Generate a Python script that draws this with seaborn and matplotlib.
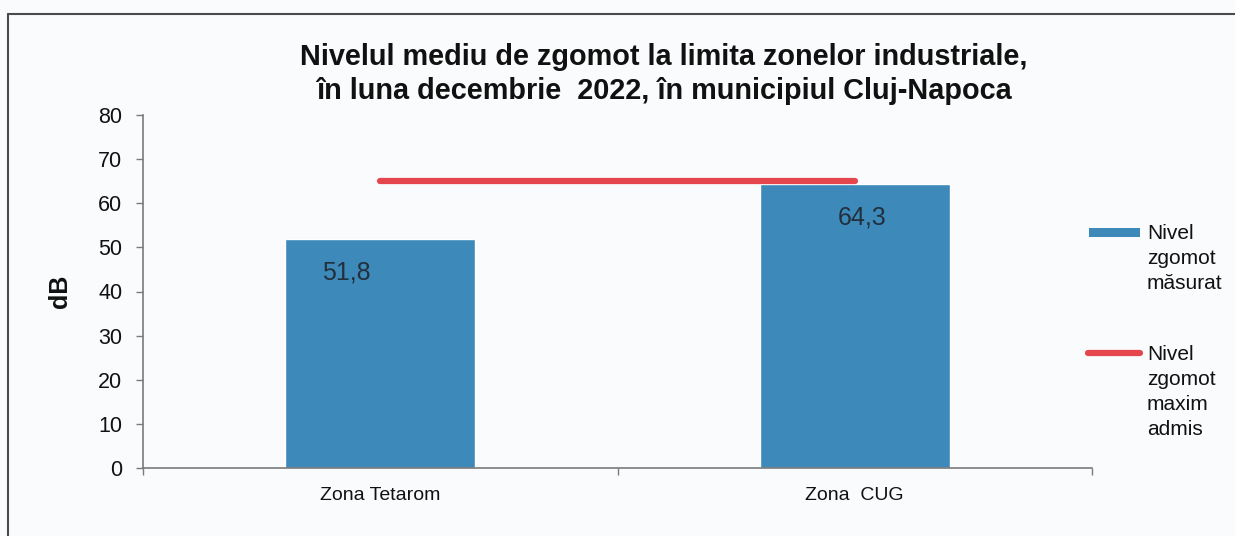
import numpy as np
import pandas as pd
import matplotlib
matplotlib.use("Agg")
import matplotlib.pyplot as plt
import seaborn as sns
from matplotlib.lines import Line2D
from matplotlib.patches import Rectangle

# --- data -------------------------------------------------------------
zones = ["Zona Tetarom", "Zona  CUG"]
measured_db = [51.8, 64.3]
max_admitted_db = [65, 65]
value_labels = ["51,8", "64,3"]
y_ticks = [0, 10, 20, 30, 40, 50, 60, 70, 80]
legend_labels = ["Nivel\nzgomot\nmăsurat", "Nivel\nzgomot\nmaxim\nadmis"]
title = ("Nivelul mediu de zgomot la limita zonelor industriale,\n"
         "în luna decembrie  2022, în municipiul Cluj-Napoca")

# --- style ------------------------------------------------------------
BG = "#f9fbfc"
BAR_COLOR = "#3d8aba"
LIMIT_COLOR = "#e5464e"
AXIS_COLOR = "#7a7a7a"
TEXT_COLOR = "#111111"
W, H = 1235, 536

sns.set_theme(style="white")
plt.rcParams["font.family"] = ["Liberation Sans", "DejaVu Sans"]

fig = plt.figure(figsize=(W / 100, H / 100), dpi=100, facecolor=BG)
ax = fig.add_axes([143 / W, 1 - 468 / H, 949 / W, 353 / H])
ax.set_facecolor(BG)

# measured noise level bars
df = pd.DataFrame({"zona": zones, "db": measured_db})
sns.barplot(data=df, x="zona", y="db", color=BAR_COLOR, width=0.4,
            saturation=1, errorbar=None, ax=ax)

# maximum admitted level, drawn across the category centres
positions = np.arange(len(zones))
sns.lineplot(x=positions, y=max_admitted_db, ax=ax, color=LIMIT_COLOR,
             linewidth=4.5, solid_capstyle="round", legend=False)

ax.set_xlim(-0.5, len(zones) - 0.5)
ax.set_ylim(0, 80)

# axes styling
for side in ("top", "right"):
    ax.spines[side].set_visible(False)
for side in ("left", "bottom"):
    ax.spines[side].set_color(AXIS_COLOR)
    ax.spines[side].set_linewidth(1.2)

ax.set_yticks(y_ticks)
ax.set_yticklabels([str(t) for t in y_ticks])
ax.tick_params(axis="y", left=True, direction="out", length=5, width=1,
               color=AXIS_COLOR, pad=10, labelsize=15.5, labelcolor=TEXT_COLOR)

ax.set_xticks(positions)
ax.set_xticklabels(zones)
ax.set_xticks(np.arange(len(zones) + 1) - 0.5, minor=True)
ax.tick_params(axis="x", which="major", bottom=True, length=0, pad=14,
               labelsize=14, labelcolor=TEXT_COLOR)
ax.tick_params(axis="x", which="minor", bottom=True, direction="out",
               length=5, width=1, color=AXIS_COLOR)
ax.set_xlabel("")

ax.set_ylabel("dB", fontsize=18, fontweight="bold", color=TEXT_COLOR)
ax.yaxis.set_label_coords(-0.075, 0.5)

# value labels inside the bars
label_shift_pt = [-24.5, 5]
for i, (v, lab) in enumerate(zip(measured_db, value_labels)):
    ax.annotate(lab, xy=(i, v), xytext=(label_shift_pt[i], -24),
                textcoords="offset points", ha="center", va="center",
                fontsize=18, color="#22303d")

# title
fig.text(664 / W, 1 - 74 / H, title, ha="center", va="center",
         multialignment="center", fontsize=20.8, fontweight="bold",
         color=TEXT_COLOR, linespacing=1.3)

# legend
fig.add_artist(Rectangle((1089 / W, 1 - 237 / H), 51 / W, 9 / H,
                         transform=fig.transFigure, color=BAR_COLOR, lw=0))
fig.add_artist(Line2D([1088 / W, 1140 / W], [1 - 353 / H] * 2,
                      transform=fig.transFigure, color=LIMIT_COLOR,
                      lw=4.5, solid_capstyle="round"))
fig.text(1147 / W, 1 - 224 / H, legend_labels[0], ha="left", va="top",
         fontsize=15, color=TEXT_COLOR, linespacing=1.4)
fig.text(1147 / W, 1 - 345 / H, legend_labels[1], ha="left", va="top",
         fontsize=15, color=TEXT_COLOR, linespacing=1.4)

# outer frame of the chart area
fig.add_artist(Line2D([8 / W, 8 / W], [0, 1 - 14 / H],
                      transform=fig.transFigure, color="#4a4a4a", lw=1.5))
fig.add_artist(Line2D([8 / W, 1], [1 - 14 / H] * 2,
                      transform=fig.transFigure, color="#4a4a4a", lw=1.5))

fig.savefig("out.png", dpi=100, facecolor=BG)
